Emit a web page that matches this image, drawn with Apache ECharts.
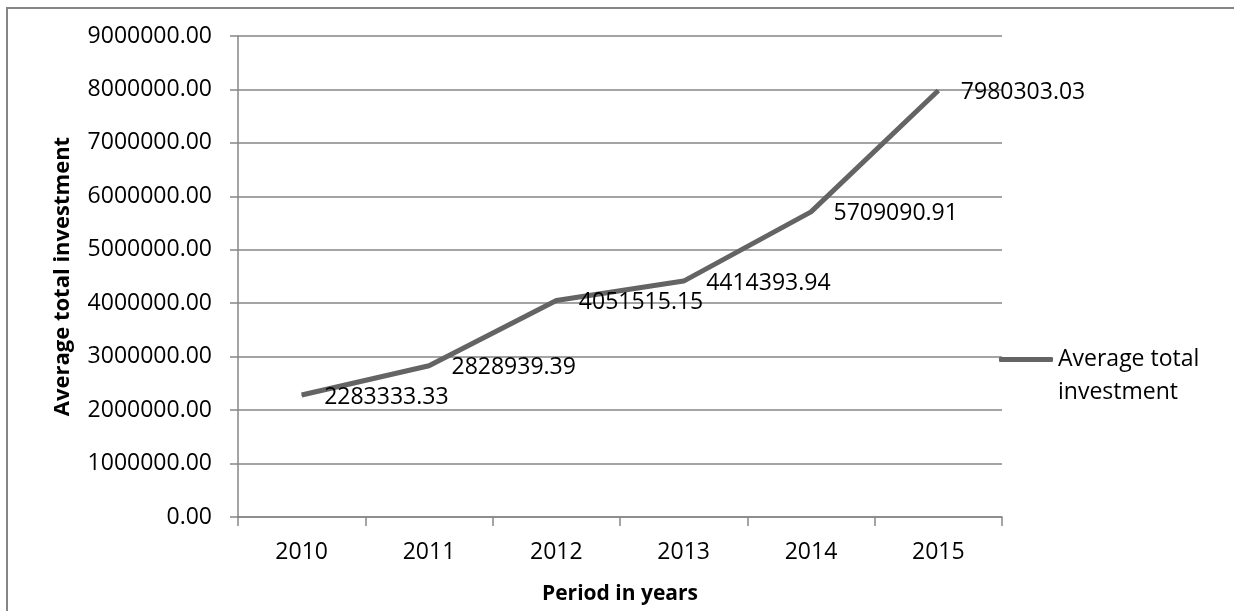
<!DOCTYPE html>
<html>
<head>
<meta charset="utf-8">
<style>
  html, body { margin: 0; padding: 0; background: #fff; }
  #chart { width: 1234px; height: 611px; }
</style>
<script src="https://cdn.jsdelivr.net/npm/echarts@6/dist/echarts.min.js"></script>
</head>
<body>
<div id="chart"></div>
<script>
// Average total investment per year
const years = ['2010', '2011', '2012', '2013', '2014', '2015'];
const investment = [2283333.33, 2828939.39, 4051515.15, 4414393.94, 5709090.91, 7980303.03];
const seriesName = 'Average total investment';
const xTitle = 'Period in years';
const yTitle = 'Average total investment';

const FONT = '"Open Sans", "Noto Sans", sans-serif';
const GRID = '#868686';
const LINE = '#646464';

const chart = echarts.init(document.getElementById('chart'), null, { renderer: 'canvas' });

chart.setOption({
  animation: false,
  backgroundColor: '#ffffff',
  textStyle: { fontFamily: FONT },
  grid: { left: 238, right: 232, top: 36, bottom: 94 },
  graphic: [
    {
      type: 'rect',
      silent: true,
      shape: { x: 7, y: 8, width: 1240, height: 620 },
      style: { fill: 'none', stroke: GRID, lineWidth: 2 }
    }
  ],
  legend: {
    data: [seriesName],
    orient: 'vertical',
    left: 999,
    top: 310,
    padding: 0,
    itemWidth: 54,
    itemHeight: 5,
    itemGap: 5,
    icon: 'roundRect',
    // leading blank line keeps the first line level with the legend line
    formatter: () => '\nAverage total\ninvestment',
    textStyle: {
      fontFamily: FONT,
      fontSize: 23,
      color: '#000',
      lineHeight: 33
    }
  },
  xAxis: {
    type: 'category',
    data: years,
    boundaryGap: true,
    name: xTitle,
    nameLocation: 'middle',
    nameGap: 67,
    nameTextStyle: { fontFamily: FONT, fontSize: 21, fontWeight: 'bold', color: '#000' },
    axisLine: { lineStyle: { color: GRID, width: 1.5 } },
    axisTick: { show: true, length: 9, lineStyle: { color: GRID, width: 1.5 } },
    axisLabel: { fontFamily: FONT, fontSize: 23, color: '#000', margin: 24 }
  },
  yAxis: {
    type: 'value',
    min: 0,
    max: 9000000,
    interval: 1000000,
    name: yTitle,
    nameLocation: 'middle',
    nameGap: 164,
    nameTextStyle: { fontFamily: FONT, fontSize: 22, fontWeight: 'bold', color: '#000' },
    axisLine: { show: true, lineStyle: { color: GRID, width: 1.5 } },
    axisTick: { show: true, length: 8, lineStyle: { color: GRID, width: 1.5 } },
    splitLine: { lineStyle: { color: GRID, width: 1.5 } },
    axisLabel: {
      fontFamily: FONT,
      fontSize: 23,
      color: '#000',
      margin: 26,
      formatter: v => v.toFixed(2)
    }
  },
  series: [
    {
      name: seriesName,
      type: 'line',
      data: investment,
      symbol: 'circle',
      symbolSize: 1,
      showSymbol: true,
      itemStyle: { color: LINE },
      lineStyle: { color: LINE, width: 5 },
      label: {
        show: true,
        position: 'right',
        distance: 22,
        fontFamily: FONT,
        fontSize: 23,
        color: '#000',
        offset: [0, 2],
        formatter: p => p.value.toFixed(2)
      }
    }
  ]
});
</script>
</body>
</html>
